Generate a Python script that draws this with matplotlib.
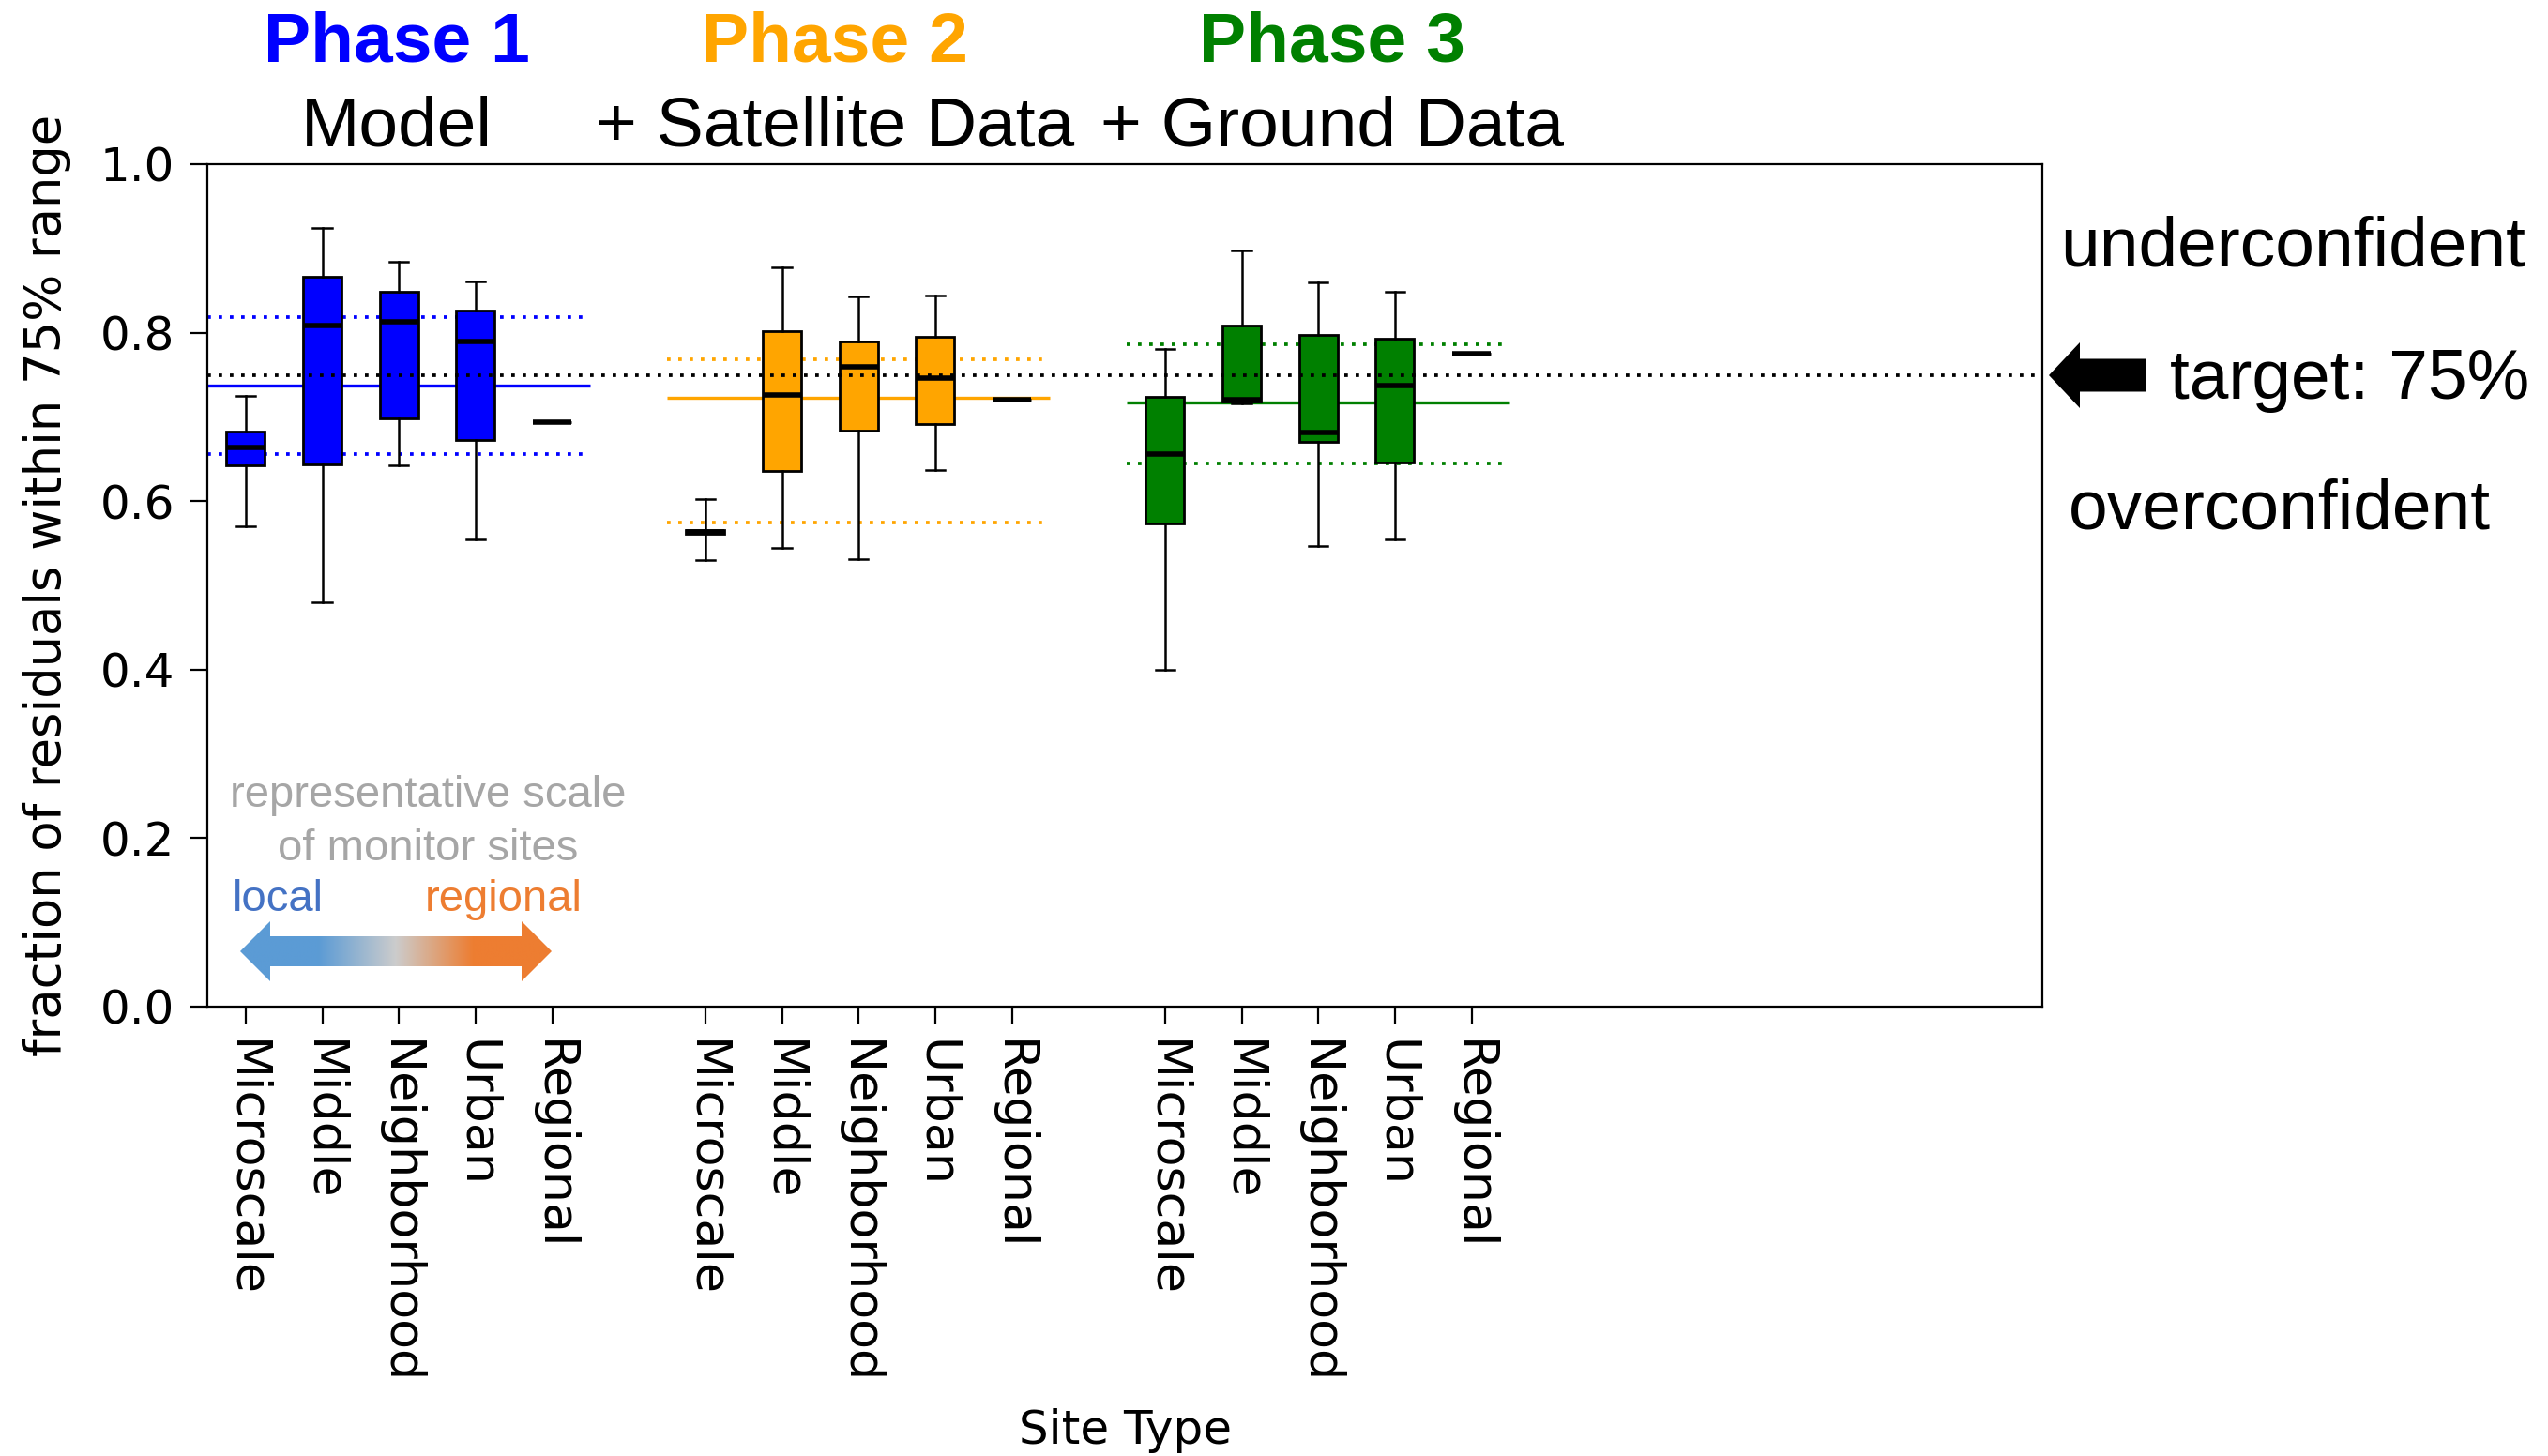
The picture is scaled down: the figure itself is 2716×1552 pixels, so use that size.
import numpy as np
import matplotlib
matplotlib.use("Agg")
import matplotlib.pyplot as plt
from matplotlib.colors import LinearSegmentedColormap
from matplotlib.patches import Polygon

# site types on the x axis, repeated for every phase
site_types = ['Microscale', 'Middle', 'Neighborhood', 'Urban', 'Regional']
phase_titles = ['Phase 1', 'Phase 2', 'Phase 3']
phase_subtitles = ['Model', '+ Satellite Data', '+ Ground Data']
phase_colors = ['blue', 'orange', 'green']
phase_positions = [[1, 2, 3, 4, 5], [7, 8, 9, 10, 11], [13, 14, 15, 16, 17]]

# box statistics per phase (whisker low, q1, median, q3, whisker high)
p1_whislo = [0.570, 0.480, 0.643, 0.555, 0.694]
p1_q1 = [0.643, 0.644, 0.698, 0.673, 0.694]
p1_med = [0.664, 0.808, 0.813, 0.790, 0.694]
p1_q3 = [0.683, 0.866, 0.849, 0.826, 0.694]
p1_whishi = [0.725, 0.924, 0.884, 0.861, 0.694]

p2_whislo = [0.530, 0.545, 0.531, 0.637, 0.720]
p2_q1 = [0.561, 0.636, 0.684, 0.691, 0.720]
p2_med = [0.564, 0.726, 0.760, 0.746, 0.720]
p2_q3 = [0.566, 0.802, 0.790, 0.795, 0.720]
p2_whishi = [0.602, 0.877, 0.843, 0.844, 0.720]

p3_whislo = [0.400, 0.716, 0.547, 0.555, 0.775]
p3_q1 = [0.574, 0.718, 0.670, 0.646, 0.775]
p3_med = [0.656, 0.720, 0.681, 0.737, 0.775]
p3_q3 = [0.724, 0.809, 0.797, 0.793, 0.775]
p3_whishi = [0.781, 0.898, 0.860, 0.848, 0.775]

# overall level and spread band per phase
phase_mean = [0.737, 0.723, 0.7175]
phase_band_lo = [0.656, 0.575, 0.645]
phase_band_hi = [0.819, 0.768, 0.786]
target = 0.75

phase_stats = [
    (p1_whislo, p1_q1, p1_med, p1_q3, p1_whishi),
    (p2_whislo, p2_q1, p2_med, p2_q3, p2_whishi),
    (p3_whislo, p3_q1, p3_med, p3_q3, p3_whishi),
]

W, H = 2716, 1552
fig = plt.figure(figsize=(W / 200, H / 200), dpi=200)
ax = fig.add_axes([221 / W, 1 - 1073 / H, 1956 / W, 898 / H])

dots = (0, (1.0, 2.2))
for i in range(3):
    pos = phase_positions[i]
    col = phase_colors[i]
    lo, q1, med, q3, hi = phase_stats[i]
    stats = [dict(whislo=lo[k], q1=q1[k], med=med[k], q3=q3[k], whishi=hi[k], fliers=[])
             for k in range(len(pos))]
    ax.bxp(stats, positions=pos, widths=0.5, patch_artist=True, showfliers=False,
           boxprops=dict(facecolor=col, edgecolor='black', linewidth=1.0),
           medianprops=dict(color='black', linewidth=2.0, zorder=4),
           whiskerprops=dict(color='black', linewidth=0.9),
           capprops=dict(color='black', linewidth=0.9))
    x0, x1 = pos[0] - 0.5, pos[-1] + 0.5
    ax.hlines(phase_mean[i], x0, x1, color=col, lw=1.2, zorder=1)
    ax.hlines([phase_band_lo[i], phase_band_hi[i]], x0, x1, color=col, lw=1.35,
              linestyles=[dots], zorder=1)

ax.axhline(target, color='black', lw=1.35, ls=dots, zorder=3)

ax.set_xlim(0.5, 24.45)
ax.set_ylim(0, 1)
ax.set_yticks(np.arange(0, 1.01, 0.2))
ax.set_yticklabels([f'{v:.1f}' for v in np.arange(0, 1.01, 0.2)], fontsize=18)
all_pos = sum(phase_positions, [])
ax.set_xticks(all_pos)
ax.set_xticklabels(site_types * 3, rotation=270, fontsize=18.8)
ax.tick_params(length=6.5, width=0.8, pad=6)
ax.set_ylabel('fraction of residuals within 75% range', fontsize=19)
ax.yaxis.set_label_coords(-0.074, 0.5)
ax.set_xlabel('Site Type', fontsize=18)
ax.xaxis.set_label_coords(0.5, -0.477)

# phase headers
arial = 'Liberation Sans'
title_x = [423, 890, 1420]
for i in range(3):
    fig.text(title_x[i] / W, 1 - 66 / H, phase_titles[i], ha='center', va='baseline',
             fontsize=27, fontweight='bold', color=phase_colors[i], family=arial)
    fig.text(title_x[i] / W, 1 - 155 / H, phase_subtitles[i], ha='center', va='baseline',
             fontsize=27, color='black', family=arial)

# right side annotation
fig.text(2444 / W, 1 - 284 / H, 'underconfident', ha='center', va='baseline',
         fontsize=27, family=arial)
fig.text(2505 / W, 1 - 425 / H, 'target: 75%', ha='center', va='baseline',
         fontsize=27, family=arial)
fig.text(2430 / W, 1 - 563 / H, 'overconfident', ha='center', va='baseline',
         fontsize=27, family=arial)

tip, base, tail, yc, hh, sh = 2184, 2217, 2287, 400, 35, 17.5
arrow_px = [(tip, yc), (base, yc - hh), (base, yc - sh), (tail, yc - sh),
            (tail, yc + sh), (base, yc + sh), (base, yc + hh)]
fig.add_artist(Polygon([(x / W, 1 - y / H) for x, y in arrow_px], closed=True,
                       transform=fig.transFigure, facecolor='black', edgecolor='none'))

# scale legend in lower left
fig.text(456 / W, 1 - 860 / H, 'representative scale', ha='center', va='baseline',
         fontsize=17, color='#a6a6a6', family=arial)
fig.text(456 / W, 1 - 917 / H, 'of monitor sites', ha='center', va='baseline',
         fontsize=17, color='#a6a6a6', family=arial)
fig.text(248 / W, 1 - 971 / H, 'local', ha='left', va='baseline',
         fontsize=17, color='#4472c4', family=arial)
fig.text(453 / W, 1 - 971 / H, 'regional', ha='left', va='baseline',
         fontsize=17, color='#ed7d31', family=arial)

gx0, gx1, gy, ghh, gsh, gh = 256, 588, 1014, 32, 16, 32
gax = fig.add_axes([gx0 / W, 1 - (gy + ghh) / H, (gx1 - gx0) / W, 2 * ghh / H])
gax.set_xlim(gx0, gx1)
gax.set_ylim(-ghh, ghh)
gax.axis('off')
cmap = LinearSegmentedColormap.from_list('scale', ['#5b9bd5', '#5b9bd5', '#cccccc', '#ed7d31', '#ed7d31'])
img = gax.imshow(np.linspace(0, 1, 256)[None, :], cmap=cmap, aspect='auto',
                 extent=(gx0, gx1, -ghh, ghh))
garrow = [(gx0, 0), (gx0 + gh, ghh), (gx0 + gh, gsh), (gx1 - gh, gsh), (gx1 - gh, ghh),
          (gx1, 0), (gx1 - gh, -ghh), (gx1 - gh, -gsh), (gx0 + gh, -gsh), (gx0 + gh, -ghh)]
clip = Polygon(garrow, closed=True, transform=gax.transData, facecolor='none', edgecolor='none')
gax.add_patch(clip)
img.set_clip_path(clip)

fig.savefig('out.png', dpi=200)
